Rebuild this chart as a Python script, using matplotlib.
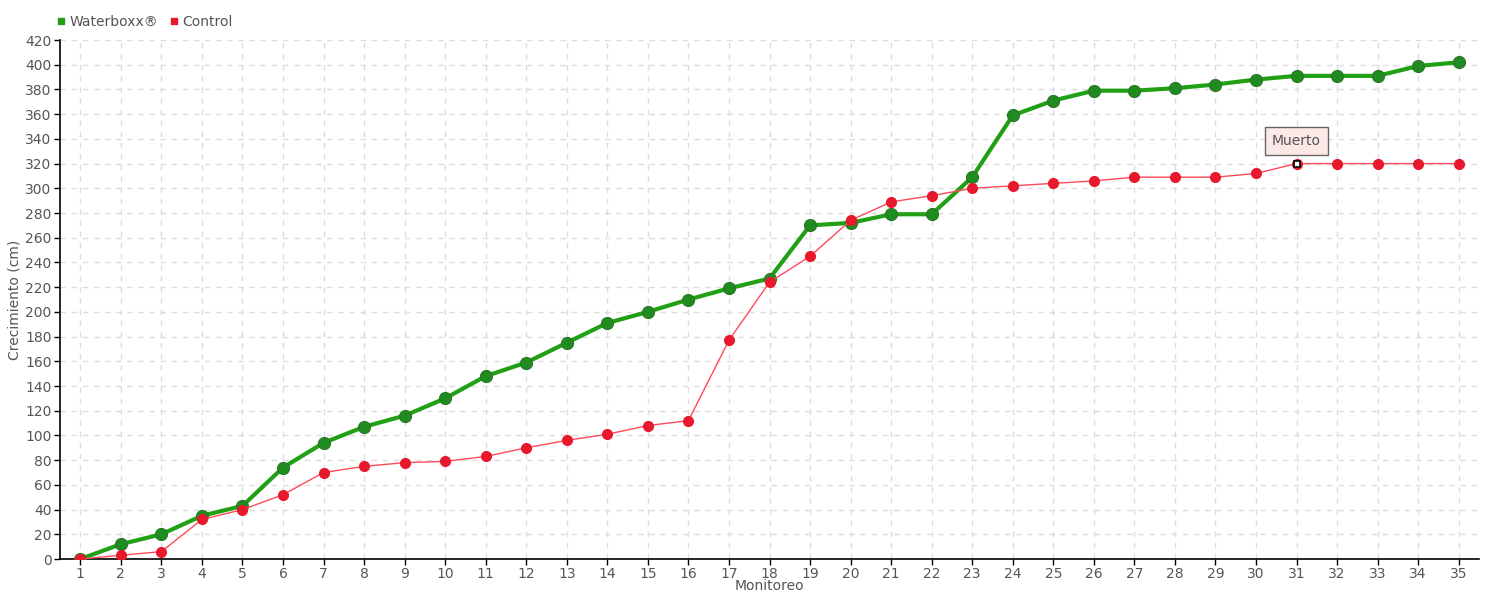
import matplotlib
matplotlib.use("Agg")
import matplotlib.pyplot as plt
from matplotlib.lines import Line2D

monitoreo = list(range(1, 36))
waterboxx = [0, 12, 20, 35, 43, 74, 94, 107, 116, 130, 148, 159, 175, 191, 200, 210,
             219, 227, 270, 272, 279, 279, 309, 359, 371, 379, 379, 381, 384, 388,
             391, 391, 391, 399, 402]
control = [0, 3, 6, 32, 40, 52, 70, 75, 78, 79, 83, 90, 96, 101, 108, 112,
           177, 224, 245, 274, 289, 294, 300, 302, 304, 306, 309, 309, 309, 312,
           320, 320, 320, 320, 320]
y_ticks = list(range(0, 421, 20))
annot_index = 30
annot_text = "Muerto"

plt.rcParams['font.family'] = ['DejaVu Sans']
txt = '#555555'

fig = plt.figure(figsize=(15, 6), dpi=100)
ax = fig.add_axes([0.04, 0.0683, 0.946, 0.865])

ax.grid(True, color='#dddddd', linestyle=(0, (4, 4)), linewidth=1)
ax.set_axisbelow(True)

ax.plot(monitoreo, waterboxx, color='#22a015', lw=3, marker='o', ms=8.5,
        mfc='#1e8c1e', mec='#2a7a2a', mew=1, zorder=3)
ax.plot(monitoreo, control, color='#ff4a5a', lw=1, marker='o', ms=7,
        mfc='#e8192c', mec='#e8192c', zorder=4)
ax.plot([monitoreo[annot_index]], [control[annot_index]], marker='s', ms=5,
        mfc='white', mec='black', mew=1.2, zorder=5)

ax.annotate(annot_text, xy=(monitoreo[annot_index], control[annot_index]),
            xytext=(0, 16), textcoords='offset points', ha='center', va='center',
            fontsize=10, color=txt,
            bbox=dict(boxstyle='square,pad=0.5', fc='#fde8e8', ec='#666666', lw=1),
            zorder=6)

ax.set_xlim(0.5, 35.5)
ax.set_ylim(0, 420)
ax.set_xticks(monitoreo)
ax.set_yticks(y_ticks)
ax.tick_params(axis='both', colors='black', labelcolor=txt, labelsize=10,
               length=4, direction='out', width=1, pad=2)
for s in ['top', 'right']:
    ax.spines[s].set_visible(False)
for s in ['left', 'bottom']:
    ax.spines[s].set_color('black')
    ax.spines[s].set_linewidth(1.2)

ax.set_xlabel('Monitoreo', color=txt, fontsize=10, labelpad=-2)
ax.set_ylabel('Crecimiento (cm)', color=txt, fontsize=10, labelpad=3)

handles = [Line2D([], [], marker='s', ls='none', color='#22a015', ms=5),
           Line2D([], [], marker='s', ls='none', color='#e8192c', ms=5)]
fig.legend(handles, ['Waterboxx®', 'Control'], loc='center left',
           bbox_to_anchor=(0.028, 0.963), ncol=2, frameon=False, fontsize=10,
           handletextpad=0.1, columnspacing=0.6, labelcolor=txt, handlelength=1)

fig.savefig('out.png', dpi=100)
